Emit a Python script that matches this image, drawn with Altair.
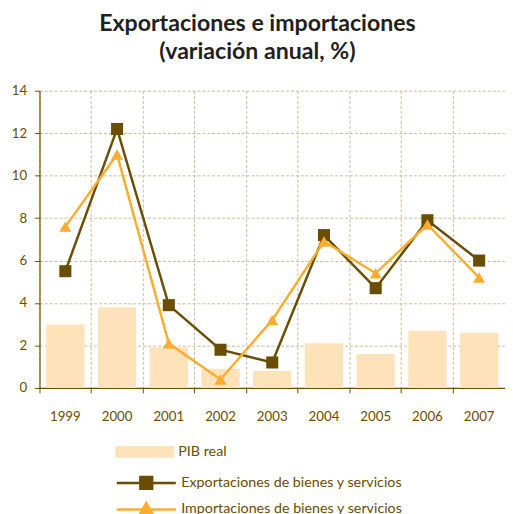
import altair as alt
import pandas as pd

years = ["1999", "2000", "2001", "2002", "2003", "2004", "2005", "2006", "2007"]
pib = [3.0, 3.8, 1.9, 0.9, 0.8, 2.1, 1.6, 2.7, 2.6]
exportaciones = [5.5, 12.2, 3.9, 1.8, 1.2, 7.2, 4.7, 7.9, 6.0]
importaciones = [7.6, 11.0, 2.1, 0.4, 3.2, 6.9, 5.4, 7.7, 5.2]

S_PIB = "PIB real"
S_EXP = "Exportaciones de bienes y servicios"
S_IMP = "Importaciones de bienes y servicios"

BROWN = "#6B4D00"
ORANGE = "#FBAD32"
BAR = "#FEE2BA"
GRID = "#CDB993"
TXT = "#6B4D00"
FONT = "Lato"

df_pib = pd.DataFrame({"year": years, "value": pib, "serie": S_PIB})
df_exp = pd.DataFrame({"year": years, "value": exportaciones, "serie": S_EXP})
df_imp = pd.DataFrame({"year": years, "value": importaciones, "serie": S_IMP})

W = 473
H = 302

x_enc = alt.X(
    "year:N",
    sort=years,
    scale=alt.Scale(paddingInner=0, paddingOuter=0),
    axis=alt.Axis(
        title=None, labelAngle=0, bandPosition=0,
        grid=True, gridDash=[3, 2], gridColor=GRID, gridWidth=1,
        domainColor=BROWN, tickColor=BROWN, tickSize=5,
        labelPadding=17, labelFontSize=13.5, labelColor=TXT, labelFont=FONT,
    ),
)
y_enc = alt.Y(
    "value:Q",
    scale=alt.Scale(domain=[0, 14], nice=False),
    axis=alt.Axis(
        title=None, values=list(range(0, 15, 2)),
        grid=True, gridDash=[3, 2], gridColor=GRID, gridWidth=1,
        domainColor=BROWN, tickColor=BROWN, tickSize=5,
        labelPadding=8, labelFontSize=13.5, labelColor=TXT, labelFont=FONT,
    ),
)

def leg(ly, path, fill, stroke, sw):
    return alt.Legend(
        title=None, orient="none", legendX=77, legendY=ly, padding=0,
        symbolType=path, symbolSize=3600, symbolFillColor=fill,
        symbolStrokeColor=stroke, symbolStrokeWidth=sw, labelLimit=0,
        labelFont=FONT, labelFontSize=14.5, labelColor=TXT, labelOffset=4,
    )

bars = alt.Chart(df_pib).mark_bar(width=alt.RelativeBandSize(0.74)).encode(
    x=x_enc, y=y_enc,
    color=alt.Color("serie:N", scale=alt.Scale(domain=[S_PIB], range=[BAR]),
                    legend=leg(337, "M-1,-0.2H1V0.2H-1Z", BAR, BAR, 0)),
)

exp_line = alt.Chart(df_exp).mark_line(
    strokeWidth=2.5,
    point=alt.OverlayMarkDef(shape="square", size=150, filled=True, opacity=1),
).encode(
    x=x_enc, y=y_enc,
    color=alt.Color("serie:N", scale=alt.Scale(domain=[S_EXP], range=[BROWN]),
                    legend=leg(367, "M-1,0H1M-0.2,-0.2H0.2V0.2H-0.2Z", BROWN, BROWN, 2.5)),
)

imp_line = alt.Chart(df_imp).mark_line(
    strokeWidth=2.5,
    point=alt.OverlayMarkDef(shape="triangle-up", size=150, filled=True, opacity=1),
).encode(
    x=x_enc, y=y_enc,
    color=alt.Color("serie:N", scale=alt.Scale(domain=[S_IMP], range=[ORANGE]),
                    legend=leg(394, "M-1,0H1M0,-0.22L0.22,0.17H-0.22Z", ORANGE, ORANGE, 2.5)),
)

chart = alt.layer(bars, exp_line, imp_line).resolve_scale(color="independent").properties(
    width=W, height=H,
    autosize=alt.AutoSizeParams(type="none"),
    padding={"left": 32, "top": 80, "right": 0, "bottom": 124},
    title=alt.TitleParams(
        text=["Exportaciones e importaciones", "(variación anual, %)"],
        font=FONT, fontSize=23.5, fontWeight="bold", color="#231F20",
        anchor="middle", dx=-15, offset=21, lineHeight=28,
    ),
).configure_view(stroke=None).configure_axis(domainWidth=1.2)

chart.save("out.html", embed_options={"renderer": "svg", "actions": False})
